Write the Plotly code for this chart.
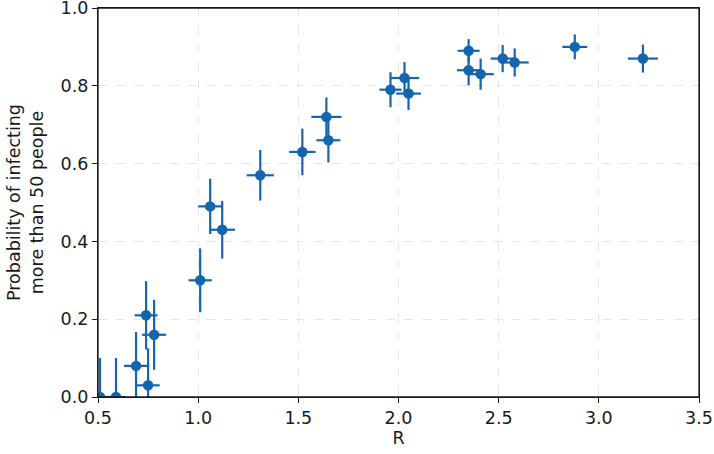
import plotly.graph_objects as go

BLUE = "#1565ae"
FONT = "DejaVu Sans"

# R estimates and probabilities
r_vals = [0.51, 0.59, 0.69, 0.74, 0.75, 0.78, 1.01, 1.06, 1.12, 1.31,
          1.52, 1.64, 1.65, 1.96, 2.03, 2.05, 2.35, 2.35, 2.41, 2.52,
          2.58, 2.88, 3.22]
prob = [0.00, 0.00, 0.08, 0.21, 0.03, 0.16, 0.30, 0.49, 0.43, 0.57,
        0.63, 0.72, 0.66, 0.79, 0.82, 0.78, 0.89, 0.84, 0.83, 0.87,
        0.86, 0.90, 0.87]
r_err = [0.05, 0.05, 0.06, 0.057, 0.058, 0.06, 0.058, 0.06, 0.064, 0.068,
         0.066, 0.075, 0.06, 0.055, 0.073, 0.062, 0.055, 0.058, 0.066, 0.06,
         0.07, 0.062, 0.075]
prob_err = [0.10, 0.10, 0.087, 0.088, 0.095, 0.09, 0.082, 0.071, 0.074, 0.065,
            0.06, 0.05, 0.057, 0.045, 0.041, 0.042, 0.03, 0.039, 0.04, 0.035,
            0.036, 0.032, 0.036]

x_ticks = [0.5, 1.0, 1.5, 2.0, 2.5, 3.0, 3.5]
y_ticks = [0.0, 0.2, 0.4, 0.6, 0.8, 1.0]

fig = go.Figure(
    go.Scatter(
        x=r_vals,
        y=prob,
        mode="markers",
        marker=dict(color=BLUE, size=10.5),
        error_x=dict(type="data", array=r_err, color=BLUE, thickness=2.2, width=0),
        error_y=dict(type="data", array=prob_err, color=BLUE, thickness=2.2, width=0),
        showlegend=False,
    )
)

axis_common = dict(
    showline=True,
    mirror=True,
    linecolor="#1a1a1a",
    linewidth=1.3,
    ticks="outside",
    ticklen=5,
    tickcolor="#1a1a1a",
    tickformat=".1f",
    ticklabeloverflow="allow",
    automargin=False,
    showgrid=True,
    gridcolor="#e6e6e6",
    griddash="dash",
    gridwidth=1,
    zeroline=False,
    tickfont=dict(family=FONT, size=17.5, color="#1a1a1a"),
)

fig.update_layout(
    width=714,
    height=454,
    paper_bgcolor="white",
    plot_bgcolor="white",
    margin=dict(l=98, r=15, t=8, b=57),
    font=dict(family=FONT, color="#1a1a1a"),
    xaxis=dict(
        axis_common,
        range=[0.5, 3.5],
        tickvals=x_ticks,
        title=dict(text="R", font=dict(family=FONT, size=17.5), standoff=4),
    ),
    yaxis=dict(
        axis_common,
        range=[0, 1],
        tickvals=y_ticks,
        title=dict(text="Probability of infecting<br>more than 50 people",
                   font=dict(family=FONT, size=17.5), standoff=12),
    ),
)

# axes frame on all four sides
fig.add_shape(type="rect", xref="paper", yref="paper", x0=0, y0=0, x1=1, y1=1,
              line=dict(color="#1a1a1a", width=1.3), layer="above")

fig.write_html("out.html", config={"displayModeBar": False},
               post_script="document.body.style.margin='0';")
